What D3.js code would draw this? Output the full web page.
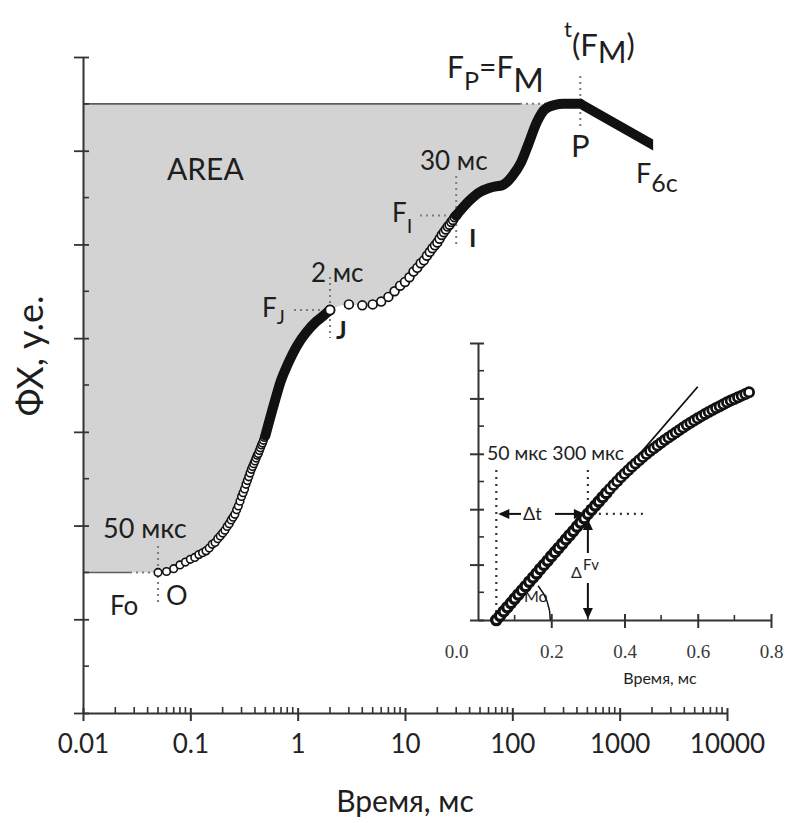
<!DOCTYPE html>
<html>
<head>
<meta charset="utf-8">
<script src="https://cdn.jsdelivr.net/npm/d3@7"></script>
<style>
  body { margin: 0; background: #fff; }
  svg { display: block; font-family: Lato, "Open Sans", sans-serif; }
</style>
</head>
<body>
<svg id="chart" width="786" height="823"></svg>
<script>
// ---------- OJIP transient (log time) ----------
const timeMs = [
  0.05, 0.06, 0.07, 0.08, 0.09, 0.10, 0.11, 0.12, 0.13, 0.14,
  0.15, 0.16, 0.17, 0.18, 0.19, 0.20, 0.21, 0.22, 0.23, 0.24,
  0.25, 0.26, 0.27, 0.28, 0.29, 0.30, 0.31, 0.32, 0.33, 0.34,
  0.35, 0.36, 0.37, 0.38, 0.39, 0.40, 0.41, 0.42, 0.43, 0.44,
  0.45, 0.46, 0.47, 0.48, 0.49, 0.50,
  0.6, 0.7, 0.8, 1.0, 1.2, 1.5, 1.7,
  2, 3, 4, 5, 6, 7, 8, 9, 10, 11, 12, 13, 14, 15, 16, 17, 18, 19, 20,
  21, 22, 23, 24, 25, 26, 27, 28, 29, 30,
  40, 50, 60, 70, 80, 90, 100, 120, 140, 170, 200, 250, 300, 430
];
const fluor = [
  1.50, 1.51, 1.54, 1.58, 1.61, 1.64, 1.66, 1.69, 1.71, 1.73,
  1.76, 1.80, 1.82, 1.86, 1.89, 1.92, 1.95, 1.99, 2.02, 2.06,
  2.09, 2.12, 2.17, 2.21, 2.26, 2.31, 2.35, 2.39, 2.44, 2.48,
  2.52, 2.56, 2.60, 2.63, 2.66, 2.69, 2.72, 2.75, 2.77, 2.80,
  2.83, 2.86, 2.88, 2.91, 2.94, 2.96,
  3.29, 3.55, 3.71, 3.93, 4.06, 4.18, 4.23,
  4.30, 4.36, 4.35, 4.36, 4.39, 4.44, 4.50, 4.56, 4.60, 4.65, 4.71, 4.75, 4.80, 4.83, 4.88, 4.92, 4.96, 4.99, 5.02,
  5.06, 5.10, 5.13, 5.16, 5.19, 5.21, 5.24, 5.26, 5.29, 5.31,
  5.47, 5.56, 5.60, 5.62, 5.63, 5.67, 5.73, 5.87, 6.06, 6.31, 6.44, 6.49, 6.50, 6.50
];
// decline after the peak
const declineMs = [430, 2050];
const declineF = [6.50, 6.06];

const fo = 1.5, fm = 6.5;
const tJ = 2, fJ = 4.30, tI = 30, fI = 5.31, tP = 430, tO = 0.05;

const xTickValues = [0.01, 0.1, 1, 10, 100, 1000, 10000];
const xTickLabels = ["0.01", "0.1", "1", "10", "100", "1000", "10000"];
const yTickValues = [0, 1, 2, 3, 4, 5, 6, 7];

// ---------- inset: first 0.74 ms on a linear time scale ----------
const insetTimeMs = [
  0.05, 0.06, 0.07, 0.08, 0.09, 0.10, 0.11, 0.12, 0.13, 0.14,
  0.15, 0.16, 0.17, 0.18, 0.19, 0.20, 0.21, 0.22, 0.23, 0.24,
  0.25, 0.26, 0.27, 0.28, 0.29, 0.30, 0.31, 0.32, 0.33, 0.34,
  0.35, 0.36, 0.37, 0.38, 0.39, 0.40, 0.41, 0.42, 0.43, 0.44,
  0.45, 0.46, 0.47, 0.48, 0.49, 0.50, 0.51, 0.52, 0.53, 0.54,
  0.55, 0.56, 0.57, 0.58, 0.59, 0.60, 0.61, 0.62, 0.63, 0.64,
  0.65, 0.66, 0.67, 0.68, 0.69, 0.70, 0.71, 0.72, 0.73, 0.74
];
const insetF = [
  0.00, 0.15, 0.31, 0.46, 0.61, 0.77, 0.92, 1.07, 1.22, 1.38,
  1.53, 1.68, 1.84, 1.99, 2.14, 2.30, 2.45, 2.60, 2.75, 2.91,
  3.06, 3.21, 3.37, 3.52, 3.67, 3.83, 3.98, 4.13, 4.28, 4.43,
  4.58, 4.73, 4.87, 5.01, 5.15, 5.28, 5.41, 5.53, 5.65, 5.77,
  5.88, 5.99, 6.10, 6.20, 6.30, 6.40, 6.50, 6.59, 6.68, 6.77,
  6.86, 6.95, 7.04, 7.12, 7.20, 7.28, 7.36, 7.44, 7.51, 7.58,
  7.65, 7.72, 7.79, 7.86, 7.92, 7.98, 8.04, 8.10, 8.16, 8.22
];
const tangentMs = [0.05, 0.60];
const tangentF = [0.00, 8.42];
const insetT300 = 0.30, insetF300 = 3.83;
const insetXTicks = [0, 0.2, 0.4, 0.6, 0.8];
const insetXTickLabels = ["0.0", "0.2", "0.4", "0.6", "0.8"];

// ---------- main chart ----------
const svg = d3.select("#chart");
const x = d3.scaleLog().domain([0.01, 10000]).range([83, 727]);
const y = d3.scaleLinear().domain([0, 7]).range([713, 57]);

const pts = timeMs.map((t, i) => ({ t, f: fluor[i] }));
const lineGen = d3.line().x(d => x(d.t)).y(d => y(d.f)).curve(d3.curveMonotoneX);

// shaded area between the curve and the Fm level
const areaPts = [{ t: 0.01, f: fo }].concat(pts.filter(d => d.t <= 300));
svg.append("path")
  .attr("d", d3.area().x(d => x(d.t)).y0(y(fm)).y1(d => y(d.f)).curve(d3.curveMonotoneX)(areaPts))
  .attr("fill", "#d3d3d3");

// Fm and Fo levels
const guide = svg.append("g");
guide.append("line").attr("x1", x(0.01)).attr("x2", 520).attr("y1", y(fm)).attr("y2", y(fm))
  .attr("stroke", "#5c5c5c").attr("stroke-width", 1.6);
guide.append("line").attr("x1", x(0.01)).attr("x2", 130).attr("y1", y(fo)).attr("y2", y(fo))
  .attr("stroke", "#5c5c5c").attr("stroke-width", 1.6);

const dotted = (x1, y1, x2, y2) => guide.append("line")
  .attr("x1", x1).attr("y1", y1).attr("x2", x2).attr("y2", y2)
  .attr("stroke", "#7c7c7c").attr("stroke-width", 2).attr("stroke-dasharray", "2,4");

dotted(520, y(fm), 548, y(fm));
dotted(130, y(fo), 153, y(fo));
dotted(x(tO), 546, x(tO), 602);
dotted(x(tJ), 277, x(tJ), 338);
dotted(294, y(fJ), 324, y(fJ));
dotted(x(tI), 176, x(tI), 245);
dotted(420, y(fI), 451, y(fI));
dotted(x(tP), 76, x(tP), 127);

// axes
const axisColor = "#333";
const gx = svg.append("g").attr("transform", "translate(0,713)");
gx.call(d3.axisBottom(x).tickValues(xTickValues).tickFormat((d, i) => xTickLabels[i]).tickSize(8).tickSizeOuter(0));
gx.select(".domain").attr("stroke", axisColor).attr("stroke-width", 2);
gx.selectAll(".tick line").attr("y1", -5).attr("stroke", axisColor).attr("stroke-width", 2);
gx.selectAll(".tick text").attr("y", 22).attr("font-size", 26).attr("fill", "#222")
  .attr("font-family", "Lato, sans-serif");
const minorX = x.ticks().filter(v => !xTickValues.some(m => Math.abs(m - v) / m < 1e-9));
gx.selectAll(".minor").data(minorX).join("line").attr("class", "minor")
  .attr("x1", d => x(d)).attr("x2", d => x(d)).attr("y1", 0).attr("y2", -6)
  .attr("stroke", axisColor).attr("stroke-width", 1.6);

const gy = svg.append("g").attr("transform", "translate(83,0)");
gy.call(d3.axisLeft(y).tickValues(yTickValues).tickFormat("").tickSize(9).tickSizeOuter(0));
gy.select(".domain").attr("stroke", axisColor).attr("stroke-width", 2);
gy.selectAll(".tick line").attr("x1", 6).attr("stroke", axisColor).attr("stroke-width", 1.8);
gy.selectAll(".minor").data(d3.range(0.5, 7, 1)).join("line").attr("class", "minor")
  .attr("x1", 0).attr("x2", 6).attr("y1", d => y(d)).attr("y2", d => y(d))
  .attr("stroke", axisColor).attr("stroke-width", 1.6);

// curve: open circles for the sampled O–J and J–I stretches
const circlePts = pts.filter(d => d.t <= 0.5 || (d.t >= tJ && d.t <= tI));
svg.append("g").selectAll("circle").data(circlePts).join("circle")
  .attr("cx", d => x(d.t)).attr("cy", d => y(d.f))
  .attr("r", d => d.t < 1 ? 3.8 : 4.4)
  .attr("fill", "#fff").attr("stroke", "#111").attr("stroke-width", d => d.t < 1 ? 1.6 : 1.7);

// dense stretches drawn as a thick line
[pts.filter(d => d.t >= 0.5 && d.t <= tJ), pts.filter(d => d.t >= tI)].forEach(seg => {
  svg.append("path").attr("d", lineGen(seg))
    .attr("fill", "none").attr("stroke", "#111").attr("stroke-width", 10)
    .attr("stroke-linecap", "round").attr("stroke-linejoin", "round");
});

// J point on top
const jPt = pts.find(d => d.t === tJ);
svg.append("circle").attr("cx", x(jPt.t)).attr("cy", y(jPt.f)).attr("r", 4.6)
  .attr("fill", "#fff").attr("stroke", "#111").attr("stroke-width", 1.8);

// decline P -> F6c as a thick bar with vertical ends
const declinePts = declineMs.map((t, i) => ({ t, f: declineF[i] }));
svg.append("path")
  .attr("d", d3.area().x(d => x(d.t)).y0(d => y(d.f) + 5.5).y1(d => y(d.f) - 5.5)(declinePts))
  .attr("fill", "#111");

// labels
const txt = (s, xx, yy, size, opts = {}) => svg.append("text")
  .attr("x", xx).attr("y", yy).attr("font-size", size).attr("fill", "#1e1e1e")
  .attr("font-weight", opts.weight || 400).attr("text-anchor", opts.anchor || "start").text(s);

txt("AREA", 167, 180, 30);
txt("50 мкс", 103, 538, 27);
txt("Fo", 110, 615, 26);
txt("O", 166, 605, 27);
txt("2 мс", 311, 282, 26);
txt("30 мс", 420, 170, 26);
txt("J", 336, 339, 25, { weight: 700 });
txt("I", 469, 247, 25, { weight: 700 });
txt("P", 571, 157, 31);

const sub = (parts, xx) => {
  const t = svg.append("text").attr("x", xx).attr("fill", "#1e1e1e");
  parts.forEach(p => t.append("tspan").attr("y", p.y).attr("font-size", p.size).text(p.s));
  return t;
};
sub([{ s: "F", y: 317, size: 26 }, { s: "J", y: 324, size: 19 }], 262);
sub([{ s: "F", y: 222, size: 26 }, { s: "I", y: 233, size: 20 }], 392);
sub([{ s: "F", y: 78, size: 30 }, { s: "P", y: 90, size: 25 }, { s: "=F", y: 78, size: 30 }, { s: "M", y: 92, size: 33 }], 447);
sub([{ s: "t", y: 37, size: 22 }, { s: "(F", y: 56, size: 31 }, { s: "M", y: 63, size: 31 }, { s: ")", y: 56, size: 31 }], 564);
sub([{ s: "F", y: 183, size: 27 }, { s: "6c", y: 192, size: 25 }], 636);

svg.append("text").attr("transform", "translate(43,356) rotate(-90)")
  .attr("text-anchor", "middle").attr("font-size", 36).attr("fill", "#1e1e1e").text("ФХ, у.е.");
svg.append("text").attr("x", 405).attr("y", 812).attr("text-anchor", "middle")
  .attr("font-size", 30).attr("fill", "#1e1e1e").text("Время, мс");

// ---------- inset ----------
const xi = d3.scaleLinear().domain([0, 0.8]).range([478, 771]);
const yi = d3.scaleLinear().domain([0, 10]).range([620, 343]);
const inset = svg.append("g");

const gxi = inset.append("g").attr("transform", "translate(0,620)");
gxi.call(d3.axisBottom(xi).tickValues(insetXTicks).tickFormat((d, i) => insetXTickLabels[i]).tickSize(8).tickSizeOuter(0));
gxi.select(".domain").attr("stroke", axisColor).attr("stroke-width", 2);
gxi.selectAll(".tick line").attr("y1", -6).attr("stroke", axisColor).attr("stroke-width", 2)
  .attr("display", d => d === 0 ? "none" : null);
gxi.selectAll(".tick text").attr("y", 25).attr("font-size", 19).attr("fill", "#3a3a3a")
  .attr("font-family", "'Liberation Serif', 'DejaVu Serif', serif")
  .attr("dx", d => d === 0 ? -22 : 0);
gxi.selectAll(".minor").data(d3.range(0.1, 0.8, 0.2)).join("line").attr("class", "minor")
  .attr("x1", d => xi(d)).attr("x2", d => xi(d)).attr("y1", 0).attr("y2", -5)
  .attr("stroke", axisColor).attr("stroke-width", 1.6);

const gyi = inset.append("g").attr("transform", "translate(478,0)");
gyi.call(d3.axisLeft(yi).tickValues(d3.range(0, 11, 2)).tickFormat("").tickSize(8).tickSizeOuter(0));
gyi.select(".domain").attr("stroke", axisColor).attr("stroke-width", 2);
gyi.selectAll(".tick line").attr("x1", 6).attr("stroke", axisColor).attr("stroke-width", 2);
gyi.selectAll(".minor").data(d3.range(1, 10, 2)).join("line").attr("class", "minor")
  .attr("x1", 0).attr("x2", 6).attr("y1", d => yi(d)).attr("y2", d => yi(d))
  .attr("stroke", axisColor).attr("stroke-width", 1.6);

// guides at 50 and 300 µs
const idot = (x1, y1, x2, y2) => inset.append("line")
  .attr("x1", x1).attr("y1", y1).attr("x2", x2).attr("y2", y2)
  .attr("stroke", "#333").attr("stroke-width", 2.2).attr("stroke-dasharray", "2,5");
idot(xi(0.05), 470, xi(0.05), 620);
idot(xi(insetT300), 470, xi(insetT300), yi(insetF300));
idot(xi(insetT300) + 4, yi(insetF300), 643, yi(insetF300));

// tangent at the origin
const tanPts = tangentMs.map((t, i) => ({ t, f: tangentF[i] }));
inset.append("path").attr("d", d3.line().x(d => xi(d.t)).y(d => yi(d.f))(tanPts))
  .attr("stroke", "#111").attr("stroke-width", 1.8).attr("fill", "none");

// sampled points
const insetPts = insetTimeMs.map((t, i) => ({ t, f: insetF[i] }));
inset.append("g").selectAll("circle").data(insetPts).join("circle")
  .attr("cx", d => xi(d.t)).attr("cy", d => yi(d.f)).attr("r", 4.6)
  .attr("fill", "#fff").attr("stroke", "#111").attr("stroke-width", d => d.t < 0.36 ? 3.4 : 2.8);

// arrows
const head = (tx, ty, dir) => {
  const L = 11, W = 5;
  let p;
  if (dir === "left") p = [[tx, ty], [tx + L, ty - W], [tx + L, ty + W]];
  if (dir === "right") p = [[tx, ty], [tx - L, ty - W], [tx - L, ty + W]];
  if (dir === "up") p = [[tx, ty], [tx - W, ty + L], [tx + W, ty + L]];
  if (dir === "down") p = [[tx, ty], [tx - W, ty - L], [tx + W, ty - L]];
  inset.append("path").attr("d", "M" + p.join("L") + "Z").attr("fill", "#111");
};
const seg = (x1, y1, x2, y2) => inset.append("line").attr("x1", x1).attr("y1", y1)
  .attr("x2", x2).attr("y2", y2).attr("stroke", "#111").attr("stroke-width", 2);
const yLvl = yi(insetF300), xLvl = xi(insetT300);
seg(xi(0.05) + 4, yLvl, 521, yLvl); head(xi(0.05) + 2, yLvl, "left");
seg(555, yLvl, xLvl - 6, yLvl); head(xLvl - 3, yLvl, "right");
seg(xLvl, yLvl + 8, xLvl, 553); head(xLvl, yLvl + 5, "up");
seg(xLvl, 583, xLvl, 612); head(xLvl, 619, "down");

// initial slope angle
const ang = Math.atan2(yi(0) - yi(tangentF[1]), xi(tangentMs[1]) - xi(tangentMs[0]));
const arcR = 54;
inset.append("path")
  .attr("d", `M${xi(0.05) + arcR},${yi(0)} A${arcR},${arcR} 0 0 0 ${xi(0.05) + arcR * Math.cos(ang * 0.8)},${yi(0) - arcR * Math.sin(ang * 0.8)}`)
  .attr("fill", "none").attr("stroke", "#111").attr("stroke-width", 1.5);

const itxt = (s, xx, yy, size) => inset.append("text").attr("x", xx).attr("y", yy)
  .attr("font-size", size).attr("fill", "#1e1e1e").text(s);
itxt("50 мкс 300 мкс", 487, 460, 19.5);
itxt("Δt", 523, 520, 18);
itxt("Δ", 571, 578, 16);
itxt("Fv", 583, 570, 15);
itxt("Mo", 524, 602, 16);
inset.append("text").attr("x", 660).attr("y", 684).attr("text-anchor", "middle")
  .attr("font-size", 16).attr("fill", "#1e1e1e").text("Время, мс");
</script>
</body>
</html>
